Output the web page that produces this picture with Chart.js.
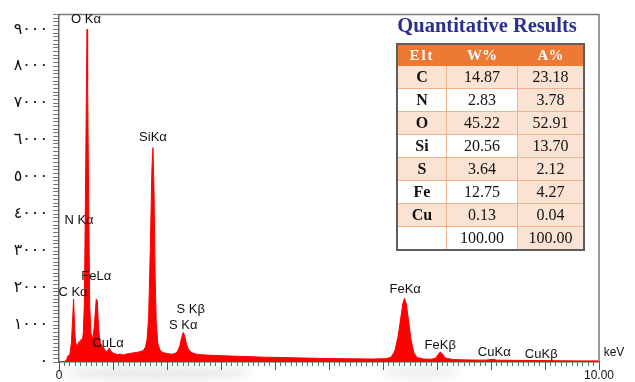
<!DOCTYPE html>
<html>
<head>
<meta charset="utf-8">
<script src="https://cdn.jsdelivr.net/npm/chart.js@4.4.1/dist/chart.umd.min.js"></script>
<style>
    body { margin: 0; background: #fff; }
    #wrap { position: relative; width: 635px; height: 382px; overflow: hidden; }
    #spectrum { position: absolute; left: 0; top: 0; }
    .shadow { position: absolute; border-radius: 50%; filter: blur(5px); }
    #title {
        position: absolute; left: 380px; top: 14px; width: 214px; text-align: center;
        font: bold 20.5px "Liberation Serif", serif; color: #2b2f8e;
    }
    #results {
        position: absolute; left: 396px; top: 43px; width: 189px; height: 204px;
        border-collapse: collapse; border: 2px solid #5e5e5e;
        font: 16px "Liberation Serif", serif; color: #111;
    }
    #results th {
        background: #ec7a34; color: #fff; font-weight: bold; font-size: 15px;
        height: 20px; padding: 0; border: 1px solid #ec7a34;
    }
    #results td { text-align: center; padding: 0; border: 1px solid #f0b38b; height: 22px; }
    #results td.elt { font-weight: bold; width: 48px; }
    #results td.w { width: 70px; }
    #results .peach { background: #fbe3d3; }
    #results .plain { background: #fff; }
</style>
</head>
<body>
<div id="wrap">
    <div class="shadow" style="left:62px;top:366px;width:190px;height:14px;background:rgba(0,0,0,0.09)"></div>
    <div class="shadow" style="left:380px;top:367px;width:80px;height:12px;background:rgba(0,0,0,0.07)"></div>
    <canvas id="spectrum" width="635" height="382"></canvas>
    <div id="title">Quantitative Results</div>
    <table id="results"></table>
</div>
<script>
// EDS spectrum: channel energy (keV) and counts
const energyKeV = [
    0.10, 0.14, 0.17, 0.19, 0.21, 0.23, 0.25, 0.27, 0.29, 0.31,
    0.33, 0.35, 0.37, 0.39, 0.41, 0.43, 0.45, 0.47, 0.49, 0.51,
    0.52, 0.53, 0.55, 0.57, 0.59, 0.61, 0.63, 0.65, 0.67, 0.69,
    0.71, 0.73, 0.75, 0.77, 0.80, 0.83, 0.86, 0.89, 0.91, 0.93,
    0.95, 0.98, 1.02, 1.08, 1.14, 1.20, 1.26, 1.32, 1.38, 1.44,
    1.50, 1.56, 1.60, 1.63, 1.66, 1.69, 1.72, 1.74, 1.76, 1.78,
    1.80, 1.83, 1.87, 1.92, 2.00, 2.08, 2.15, 2.20, 2.24, 2.27,
    2.30, 2.33, 2.36, 2.40, 2.46, 2.55, 2.70, 2.85, 3.00, 3.20,
    3.40, 3.60, 3.80, 4.00, 4.30, 4.60, 4.90, 5.20, 5.50, 5.80,
    6.05, 6.15, 6.22, 6.28, 6.33, 6.37, 6.40, 6.43, 6.47, 6.52,
    6.57, 6.63, 6.75, 6.90, 6.98, 7.02, 7.06, 7.10, 7.15, 7.30,
    7.60, 7.90, 8.00, 8.04, 8.10, 8.40, 8.80, 9.20, 9.60, 10.00
];
const counts = [
    0, 60, 180, 120, 300, 520, 1100, 1700, 900, 420,
    500, 380, 560, 470, 620, 520, 800, 1600, 4500, 7800,
    9000, 7600, 4200, 1500, 800, 650, 700, 900, 1300, 1700,
    1650, 1000, 620, 500, 430, 380, 300, 270, 330, 380,
    320, 260, 230, 200, 210, 190, 220, 230, 250, 260,
    280, 310, 400, 600, 1200, 3000, 5200, 5800, 4600, 2400,
    1100, 500, 320, 260, 230, 210, 230, 300, 450, 650,
    800, 700, 480, 330, 250, 210, 190, 180, 170, 160,
    150, 140, 130, 125, 115, 105, 95, 90, 85, 80,
    90, 130, 300, 700, 1200, 1600, 1720, 1580, 1150, 600,
    250, 120, 80, 75, 110, 200, 270, 220, 110, 65,
    55, 50, 65, 75, 50, 45, 40, 35, 30, 30
];

const yTickValues = [0, 1000, 2000, 3000, 4000, 5000, 6000, 7000, 8000, 9000];
const yTickLabels = ['٠', '١٠٠٠', '٢٠٠٠', '٣٠٠٠', '٤٠٠٠', '٥٠٠٠', '٦٠٠٠', '٧٠٠٠', '٨٠٠٠', '٩٠٠٠'];
const xTickValues = [0, 10];
const xTickLabels = ['0', '10.00'];

// peak identifications, placed at (keV, counts)
const peakNames = ['O Kα', 'SiKα', 'N Kα', 'FeLα', 'C Kα', 'CuLα', 'S Kβ', 'S Kα', 'FeKα', 'FeKβ', 'CuKα', 'CuKβ'];
const peakLabelKeV = [0.50, 1.74, 0.37, 0.69, 0.26, 0.91, 2.44, 2.30, 6.41, 7.06, 8.06, 8.93];
const peakLabelY = [9270, 6080, 3840, 2320, 1890, 510, 1410, 990, 1970, 450, 270, 210];

// quantitative results table
const elements = ['C', 'N', 'O', 'Si', 'S', 'Fe', 'Cu', ''];
const weightPct = ['14.87', '2.83', '45.22', '20.56', '3.64', '12.75', '0.13', '100.00'];
const atomicPct = ['23.18', '3.78', '52.91', '13.70', '2.12', '4.27', '0.04', '100.00'];

let table = document.getElementById('results');
let head = '<tr><th style="letter-spacing:2px">Elt</th><th>W%</th><th>A%</th></tr>';
let rows = elements.map(function (el, i) {
    let bg = i % 2 === 0 ? 'peach' : 'plain';
    return '<tr><td class="elt ' + bg + '">' + el + '</td>' +
        '<td class="w ' + bg + '">' + weightPct[i] + '</td>' +
        '<td class="peach">' + atomicPct[i] + '</td></tr>';
});
table.innerHTML = head + rows.join('');

function labelFor(values, labels, v) {
    for (let i = 0; i < values.length; i++) {
        if (Math.abs(values[i] - v) < 1e-6) return labels[i];
    }
    return '';
}

const spectrumDecor = {
    id: 'spectrumDecor',
    afterDraw(chart) {
        const ctx = chart.ctx;
        const area = chart.chartArea;
        const x = chart.scales.x;
        const y = chart.scales.y;
        ctx.save();
        // frame top and right
        ctx.strokeStyle = '#7a7a7a';
        ctx.lineWidth = 1.5;
        ctx.beginPath();
        ctx.moveTo(area.left, area.top);
        ctx.lineTo(area.right, area.top);
        ctx.lineTo(area.right, area.bottom);
        ctx.stroke();
        // longer ticks every keV
        ctx.strokeStyle = '#555';
        ctx.lineWidth = 1;
        for (let k = 0; k <= 10; k++) {
            let px = Math.round(x.getPixelForValue(k)) + 0.5;
            ctx.beginPath();
            ctx.moveTo(px, area.bottom);
            ctx.lineTo(px, area.bottom + 8);
            ctx.stroke();
        }
        // peak names
        ctx.fillStyle = '#111';
        ctx.font = '13px "Liberation Sans", Arial, sans-serif';
        ctx.textAlign = 'center';
        ctx.textBaseline = 'middle';
        for (let i = 0; i < peakNames.length; i++) {
            ctx.fillText(peakNames[i], x.getPixelForValue(peakLabelKeV[i]), y.getPixelForValue(peakLabelY[i]));
        }
        ctx.font = '12px "Liberation Sans", Arial, sans-serif';
        ctx.fillText('keV', area.right + 15, area.bottom - 9);
        ctx.restore();
    }
};

let chart = new Chart('spectrum', {
    type: 'line',
    data: {
        datasets: [
            {
                data: energyKeV.map((e, i) => ({ x: e, y: counts[i] })),
                borderColor: '#ff0000',
                backgroundColor: '#ff0000',
                borderWidth: 1,
                fill: 'origin',
                tension: 0,
                pointRadius: 0,
            },
        ],
    },
    options: {
        responsive: false,
        animation: false,
        devicePixelRatio: 1,
        layout: { padding: { top: 8, right: 36, left: 0, bottom: 0 } },
        plugins: { legend: { display: false }, tooltip: { enabled: false } },
        scales: {
            x: {
                type: 'linear',
                min: 0,
                max: 10,
                grid: { drawOnChartArea: false, tickLength: 4, color: '#666' },
                border: { color: '#555', width: 1.5 },
                ticks: {
                    stepSize: 0.1,
                    autoSkip: false,
                    maxRotation: 0,
                    padding: 2,
                    color: '#111',
                    font: { family: '"Liberation Sans", Arial, sans-serif', size: 12 },
                    callback: (v) => labelFor(xTickValues, xTickLabels, v),
                },
                afterFit: (scale) => { scale.height = 20; },
            },
            y: {
                min: 0,
                max: 9400,
                grid: { drawOnChartArea: false, tickLength: 6, color: '#777' },
                border: { color: '#666', width: 1.5 },
                ticks: {
                    stepSize: 100,
                    autoSkip: false,
                    padding: 5,
                    color: '#111',
                    font: { family: '"DejaVu Sans", sans-serif', size: 16 },
                    callback: (v) => labelFor(yTickValues, yTickLabels, v),
                },
                afterFit: (scale) => { scale.width = 59; },
            },
        },
    },
    plugins: [spectrumDecor],
});
</script>
</body>
</html>
